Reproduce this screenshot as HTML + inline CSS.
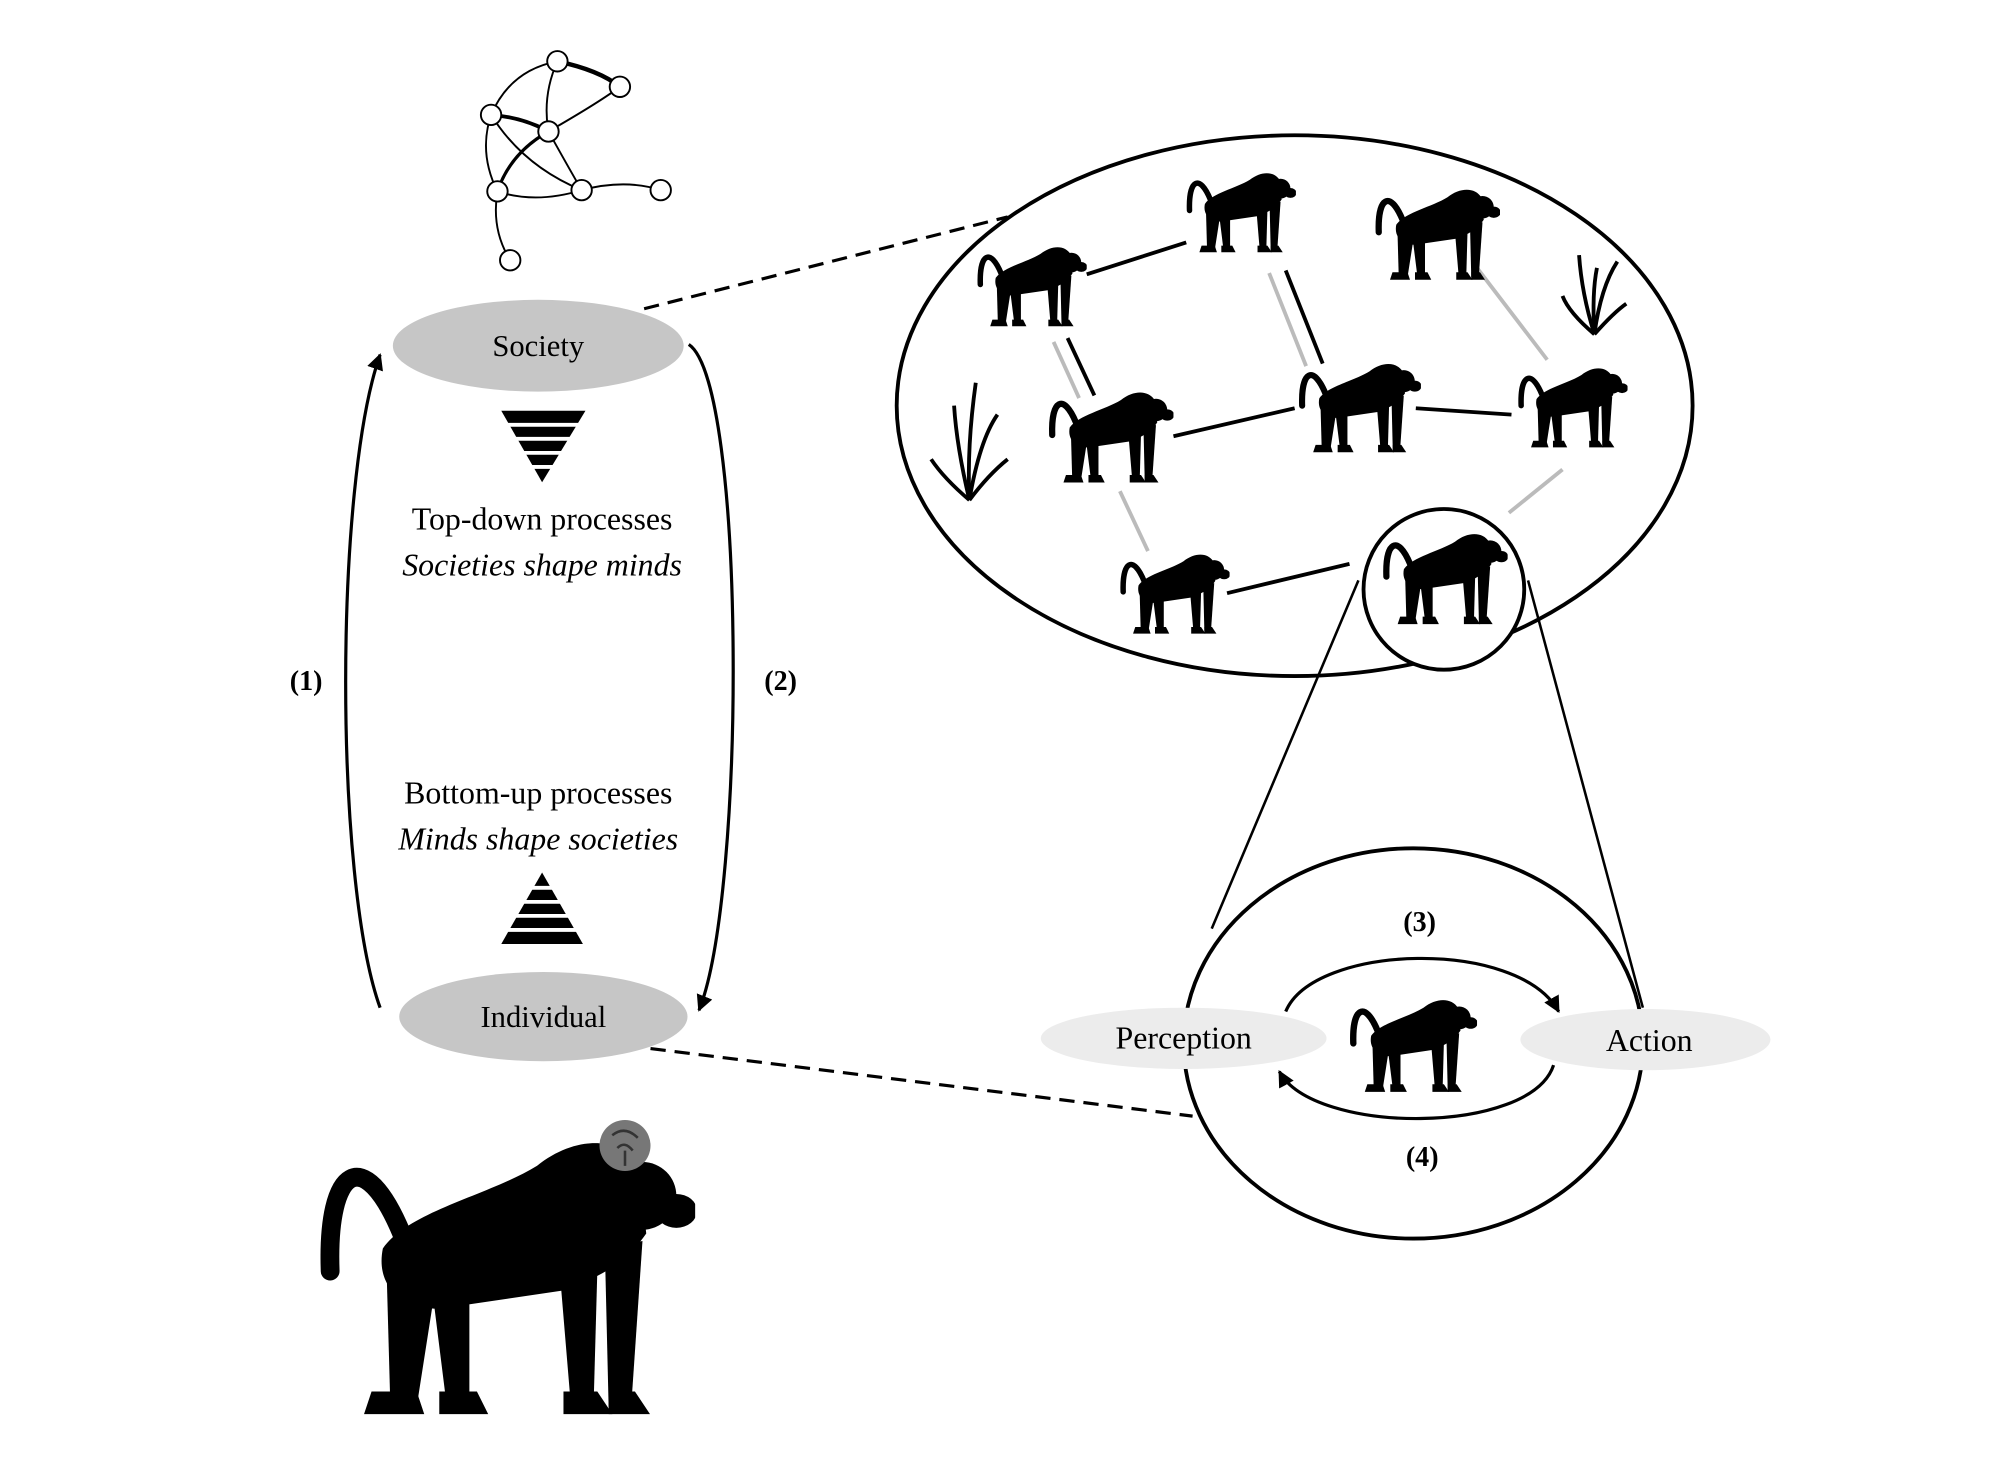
<!DOCTYPE html>
<html><head><meta charset="utf-8"><style>
html,body{margin:0;padding:0;background:#fff;}
svg{display:block;}
text{font-family:"Liberation Serif",serif;}
</style></head><body>
<svg width="2000" height="1481" viewBox="0 0 1568 1161" xmlns="http://www.w3.org/2000/svg">
<defs>
<symbol id="bab" viewBox="0 0 100 80">
<path d="M22,30 C12,6 2,12 3,40" stroke="#000" stroke-width="5" fill="none" stroke-linecap="round"/>
<path d="M17,34 C24,24 45,20 58,12 C68,4 80,4 85,12 L87,30 C80,40 72,42 66,45 L32,50 C22,50 15,44 17,34 Z" fill="#000"/>
<circle cx="86" cy="20" r="9" fill="#000"/>
<ellipse cx="95" cy="24" rx="5.5" ry="4.5" fill="#000"/>
<polygon points="64,40 74,40 73,76 67,76" fill="#000"/>
<polygon points="76,34 86,32 83,76 77,76" fill="#000"/>
<polygon points="18,40 31,44 26,76 19,76" fill="#000"/>
<polygon points="30,44 40,46 40,76 34,76" fill="#000"/>
<polygon points="14,72 26,72 28,78 12,78" fill="#000"/>
<polygon points="32,72 42,72 45,78 32,78" fill="#000"/>
<polygon points="65,72 74,72 78,78 65,78" fill="#000"/>
<polygon points="77,72 84,72 88,78 77,78" fill="#000"/>
</symbol>
<marker id="ah" viewBox="0 0 10 10" refX="9" refY="5" markerWidth="13" markerHeight="13" orient="auto" markerUnits="userSpaceOnUse"><path d="M0,0 L10,5 L0,10 Z" fill="#000"/></marker>
</defs>

<!-- network -->
<g stroke="#000" fill="none" stroke-width="1.5">
<path d="M385,90 Q400,55 437,48"/>
<path d="M437,48 Q470,55 486,68" stroke-width="3.5"/>
<path d="M437,48 Q425,75 430,103"/>
<path d="M385,90 Q410,92 430,103" stroke-width="3"/>
<path d="M385,90 Q410,130 456,149"/>
<path d="M385,90 Q375,120 390,150"/>
<path d="M430,103 Q400,120 390,150" stroke-width="2.5"/>
<path d="M430,103 Q470,80 486,68"/>
<path d="M430,103 Q445,130 456,149"/>
<path d="M390,150 Q420,160 456,149"/>
<path d="M456,149 Q490,140 518,149"/>
<path d="M390,150 Q385,180 400,204"/>
</g>
<g fill="#fff" stroke="#000" stroke-width="1.5">
<circle cx="437" cy="48" r="8"/><circle cx="486" cy="68" r="8"/><circle cx="385" cy="90" r="8"/>
<circle cx="430" cy="103" r="8"/><circle cx="390" cy="150" r="8"/><circle cx="456" cy="149" r="8"/>
<circle cx="518" cy="149" r="8"/><circle cx="400" cy="204" r="8"/>
</g>

<!-- left loop -->
<ellipse cx="422" cy="271" rx="114" ry="36" fill="#c6c6c6"/>
<text x="422" y="279" font-size="24" text-anchor="middle">Society</text>
<ellipse cx="426" cy="797" rx="113" ry="35" fill="#c6c6c6"/>
<text x="426" y="805" font-size="24" text-anchor="middle">Individual</text>
<path d="M298,790 C262,690 262,380 298,278" stroke="#000" stroke-width="2.5" fill="none" marker-end="url(#ah)"/>
<path d="M540,270 C585,300 585,700 548,792" stroke="#000" stroke-width="2.5" fill="none" marker-end="url(#ah)"/>
<text x="240" y="541" font-size="22" font-weight="bold" text-anchor="middle">(1)</text>
<text x="612" y="541" font-size="22" font-weight="bold" text-anchor="middle">(2)</text>

<polygon points="393,322 459,322 425,378" fill="#000"/>
<g stroke="#fff" stroke-width="3">
<line x1="390" y1="333" x2="462" y2="333"/><line x1="390" y1="344" x2="462" y2="344"/>
<line x1="390" y1="355" x2="462" y2="355"/><line x1="390" y1="366" x2="462" y2="366"/>
</g>
<text x="425" y="415" font-size="25" text-anchor="middle">Top-down processes</text>
<text x="425" y="451" font-size="25" font-style="italic" text-anchor="middle">Societies shape minds</text>
<text x="422" y="630" font-size="25" text-anchor="middle">Bottom-up processes</text>
<text x="422" y="666" font-size="25" font-style="italic" text-anchor="middle">Minds shape societies</text>
<polygon points="425,684 393,740 457,740" fill="#000"/>
<g stroke="#fff" stroke-width="3">
<line x1="390" y1="696" x2="462" y2="696"/><line x1="390" y1="707" x2="462" y2="707"/>
<line x1="390" y1="718" x2="462" y2="718"/><line x1="390" y1="729" x2="462" y2="729"/>
</g>

<line x1="505" y1="242" x2="790" y2="170" stroke="#000" stroke-width="2.5" stroke-dasharray="12,7"/>
<line x1="510" y1="822" x2="935" y2="875" stroke="#000" stroke-width="2.5" stroke-dasharray="12,7"/>

<ellipse cx="1015" cy="318" rx="312" ry="212" fill="none" stroke="#000" stroke-width="3"/>
<g stroke="#000" stroke-width="3">
<line x1="852" y1="215" x2="930" y2="190"/>
<line x1="1008" y1="212" x2="1037" y2="285"/>
<line x1="837" y1="265" x2="858" y2="310"/>
<line x1="920" y1="342" x2="1015" y2="320"/>
<line x1="1110" y1="320" x2="1185" y2="325"/>
<line x1="962" y1="465" x2="1058" y2="442"/>
</g>
<g stroke="#bbb" stroke-width="3">
<line x1="995" y1="214" x2="1024" y2="287"/>
<line x1="826" y1="268" x2="846" y2="312"/>
<line x1="1158" y1="210" x2="1213" y2="282"/>
<line x1="878" y1="385" x2="900" y2="432"/>
<line x1="1183" y1="402" x2="1225" y2="368"/>
</g>
<g stroke="#000" stroke-width="3" fill="none">
<path d="M1250,262 Q1240,230 1238,200"/><path d="M1250,262 Q1255,225 1268,205"/><path d="M1250,262 Q1230,245 1225,232"/><path d="M1250,262 Q1265,245 1275,238"/><path d="M1250,262 Q1248,230 1252,210"/>
<path d="M760,392 Q750,350 748,318"/><path d="M760,392 Q768,345 782,325"/><path d="M760,392 Q740,375 730,360"/><path d="M760,392 Q775,372 790,360"/><path d="M760,392 Q758,350 765,300"/>
</g>
<use href="#bab" x="766" y="178" width="86" height="90" preserveAspectRatio="none"/>
<use href="#bab" x="930" y="120" width="86" height="90" preserveAspectRatio="none"/>
<use href="#bab" x="1078" y="140" width="98" height="84" preserveAspectRatio="none"/>
<use href="#bab" x="822" y="298" width="98" height="86" preserveAspectRatio="none"/>
<use href="#bab" x="1018" y="276" width="96" height="84" preserveAspectRatio="none"/>
<use href="#bab" x="1190" y="272" width="86" height="92" preserveAspectRatio="none"/>
<use href="#bab" x="878" y="418" width="86" height="92" preserveAspectRatio="none"/>
<circle cx="1132" cy="462" r="63" fill="#fff" stroke="#000" stroke-width="3"/>
<use href="#bab" x="1084" y="410" width="98" height="84" preserveAspectRatio="none"/>

<line x1="1065" y1="455" x2="950" y2="728" stroke="#000" stroke-width="2"/>
<line x1="1198" y1="455" x2="1288" y2="790" stroke="#000" stroke-width="2"/>
<ellipse cx="1108" cy="818" rx="180" ry="153" fill="#fff" stroke="#000" stroke-width="3"/>
<ellipse cx="928" cy="814" rx="112" ry="24" fill="#ececec"/>
<text x="928" y="822" font-size="25" text-anchor="middle">Perception</text>
<ellipse cx="1290" cy="815" rx="98" ry="24" fill="#ececec"/>
<text x="1293" y="824" font-size="25" text-anchor="middle">Action</text>
<path d="M1008,793 C1030,740 1190,735 1222,793" stroke="#000" stroke-width="2.5" fill="none" marker-end="url(#ah)"/>
<path d="M1218,835 C1200,890 1030,890 1003,840" stroke="#000" stroke-width="2.5" fill="none" marker-end="url(#ah)"/>
<text x="1113" y="730" font-size="22" font-weight="bold" text-anchor="middle">(3)</text>
<text x="1115" y="914" font-size="22" font-weight="bold" text-anchor="middle">(4)</text>
<use href="#bab" x="1058" y="775" width="100" height="86" preserveAspectRatio="none"/>

<use href="#bab" x="250" y="875" width="295" height="243" preserveAspectRatio="none"/>
<circle cx="490" cy="898" r="20" fill="#777"/>
<path d="M480,890 Q490,882 500,892 M484,900 Q490,894 496,902 M490,902 L490,914" stroke="#333" stroke-width="2" fill="none"/>
</svg>
</body></html>
